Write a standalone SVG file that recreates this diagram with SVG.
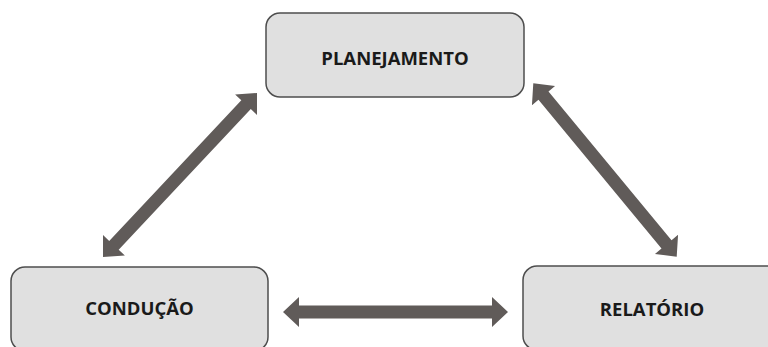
<svg xmlns="http://www.w3.org/2000/svg" xmlns:xlink="http://www.w3.org/1999/xlink" width="768" height="347" viewBox="0 0 768 347">
<style>
.box{fill:#e0e0e0;stroke:#4d4d4d;stroke-width:1.5}
.lbl{font-family:"Open Sans","Liberation Sans",sans-serif;font-weight:bold;font-size:18.5px;fill:#1a1a1a;text-anchor:middle}
.arr{fill:#605b59}
</style>
<defs>
<path id="dbl" d="M-112.5,0 L-96.5,-15 L-96.5,-6.5 L96.5,-6.5 L96.5,-15 L112.5,0 L96.5,15 L96.5,6.5 L-96.5,6.5 L-96.5,15 Z"/>
</defs>
<rect width="768" height="347" fill="#ffffff"/>
<g id="connectors">
<use xlink:href="#dbl" class="arr" transform="translate(395.5,312)"/>
<use xlink:href="#dbl" class="arr" transform="translate(180,175) rotate(-46.8)"/>
<use xlink:href="#dbl" class="arr" transform="translate(605,170) rotate(50.4)"/>
</g>
<g id="planejamento">
<rect class="box" x="266" y="13" width="258" height="84" rx="14"/>
<text class="lbl" x="395" y="65">PLANEJAMENTO</text>
</g>
<g id="conducao">
<rect class="box" x="11" y="267" width="257" height="84" rx="14"/>
<text class="lbl" x="139.5" y="315">CONDUÇÃO</text>
</g>
<g id="relatorio">
<rect class="box" x="523" y="266" width="258" height="84" rx="14"/>
<text class="lbl" x="652" y="316">RELATÓRIO</text>
</g>
</svg>
